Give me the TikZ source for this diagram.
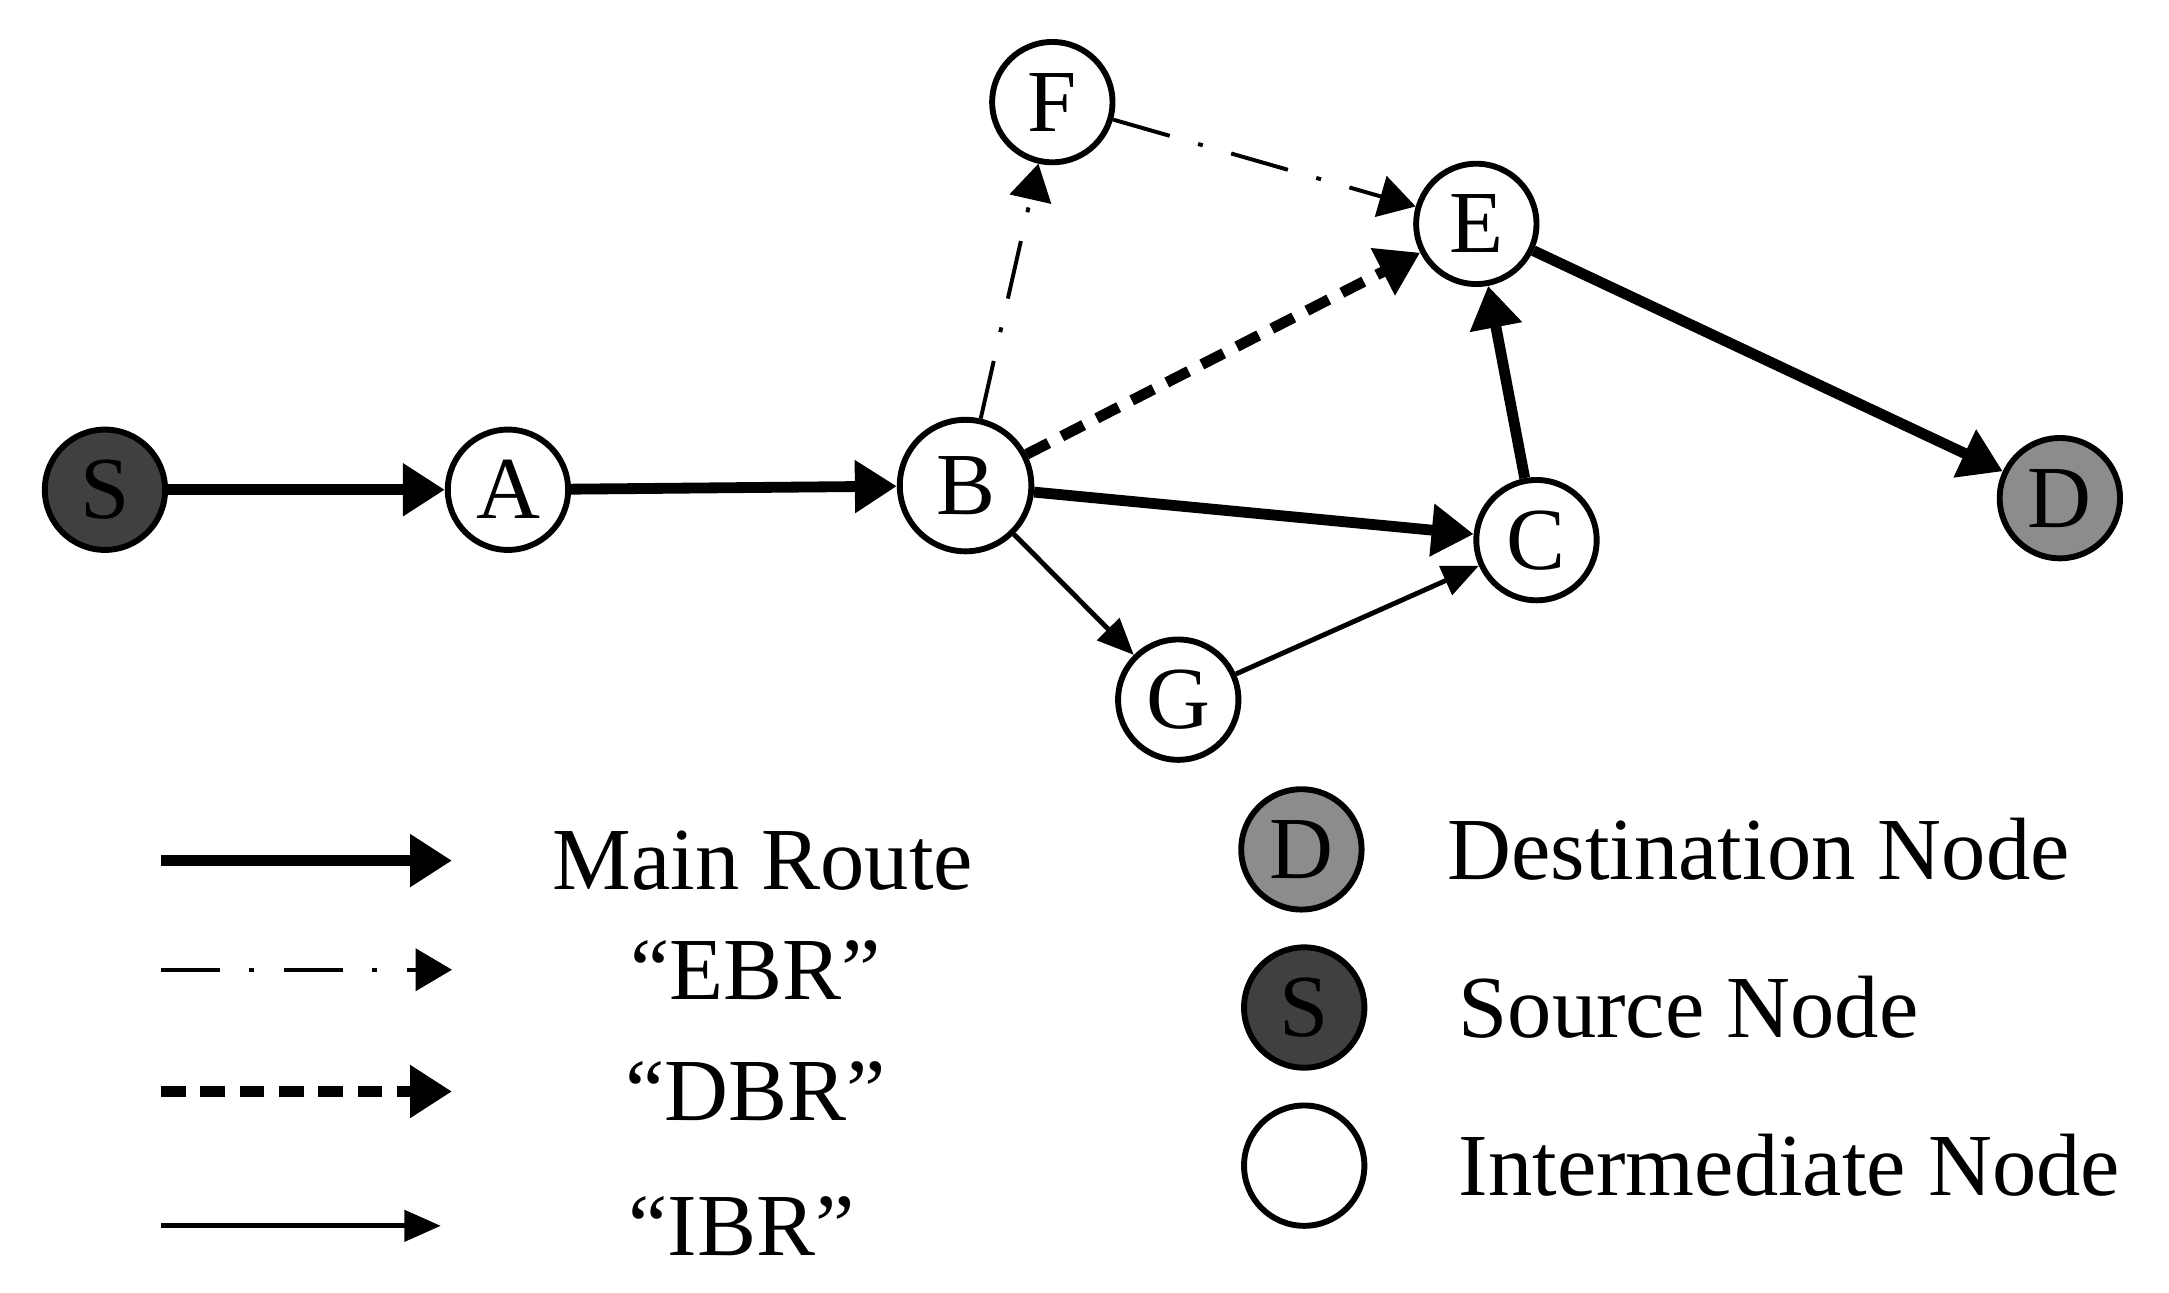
\documentclass[tikz,border=0pt]{standalone}
\usepackage{fontspec}
\setmainfont{Liberation Serif}
\usetikzlibrary{arrows.meta}
\tikzset{
  nd/.style={circle, draw, line width=1.2pt, minimum size=0.86cm, inner sep=0pt, font=\fontsize{18}{18}\selectfont},
  main/.style={line width=2.2pt, -{Triangle[length=0.3cm,width=0.36cm]}},
  dbr/.style={line width=2.2pt, dash pattern=on 5pt off 3pt, -{Triangle[length=0.3cm,width=0.36cm]}},
  ebr/.style={line width=0.8pt, dash pattern=on 12pt off 6pt on 1pt off 6pt, -{Triangle[length=0.26cm,width=0.3cm]}},
  ibr/.style={line width=1pt, -{Triangle[length=0.26cm,width=0.22cm]}},
  lbl/.style={font=\fontsize{18}{18}\selectfont}
}
\begin{document}
\begin{tikzpicture}
    \useasboundingbox (0,0) rectangle (15.5,9.24);

    % network nodes
    \node[nd, fill=black!75] (S) at (0.75,5.74) {S};
    \node[nd] (A) at (3.63,5.74) {A};
    \node[nd, minimum size=0.94cm] (B) at (6.90,5.77) {B};
    \node[nd] (F) at (7.52,8.51) {F};
    \node[nd] (E) at (10.55,7.64) {E};
    \node[nd] (C) at (10.98,5.38) {C};
    \node[nd] (G) at (8.42,4.24) {G};
    \node[nd, fill=black!45] (D) at (14.72,5.68) {D};

    % routes
    \draw[main] (S) -- (A);
    \draw[main] (A) -- (B);
    \draw[main] (B) -- (C);
    \draw[main] (C) -- (E);
    \draw[main] (E) -- (D);
    \draw[dbr] (B) -- (E);
    \draw[ebr] (B) -- (F);
    \draw[ebr] (F) -- (E);
    \draw[ibr] (B) -- (G);
    \draw[ibr] (G) -- (C);

    % legend
    \coordinate (l1a) at (1.15,3.09); \coordinate (l1b) at (3.23,3.09);
    \coordinate (l2a) at (1.15,2.31); \coordinate (l2b) at (3.23,2.31);
    \coordinate (l3a) at (1.15,1.44); \coordinate (l3b) at (3.23,1.44);
    \coordinate (l4a) at (1.15,0.48); \coordinate (l4b) at (3.15,0.48);
    \draw[main] (l1a) -- (l1b);
    \draw[ebr] (l2a) -- (l2b);
    \draw[dbr] (l3a) -- (l3b);
    \draw[ibr] (l4a) -- (l4b);
    \node[lbl] (t1) at (5.45,3.09) {Main Route};
    \node[lbl] (t2) at (5.40,2.31) {“EBR”};
    \node[lbl] (t3) at (5.40,1.44) {“DBR”};
    \node[lbl] (t4) at (5.30,0.48) {“IBR”};

    \node[nd, fill=black!45] (kD) at (9.30,3.17) {D};
    \node[nd, fill=black!75] (kS) at (9.32,2.04) {S};
    \node[nd] (kI) at (9.32,0.91) {};
    \node[lbl, anchor=west] (k1) at (10.22,3.17) {Destination Node};
    \node[lbl, anchor=west] (k2) at (10.30,2.04) {Source Node};
    \node[lbl, anchor=west] (k3) at (10.30,0.91) {Intermediate Node};
\end{tikzpicture}
\end{document}
